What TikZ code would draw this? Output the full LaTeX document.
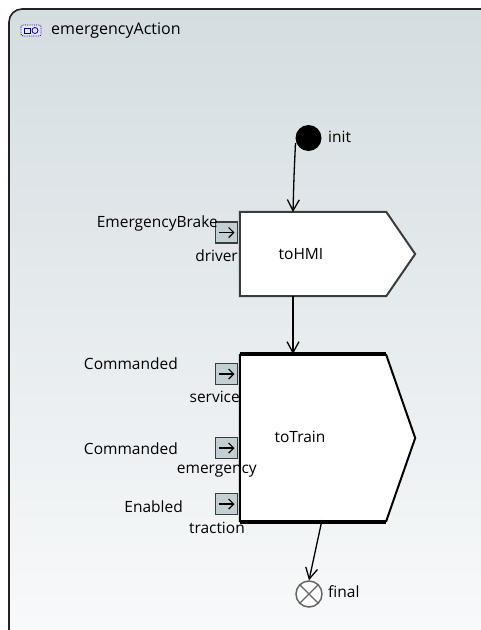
\documentclass[tikz,border=0pt]{standalone}
\usepackage{fontspec}
\setmainfont{Open Sans}
\usetikzlibrary{arrows.meta}
\definecolor{bgtop}{RGB}{213,221,224}
\definecolor{bgbot}{RGB}{249,250,251}
\definecolor{pinfill}{RGB}{196,207,211}
\definecolor{framec}{RGB}{34,34,34}
\definecolor{hmiedge}{RGB}{60,60,60}
\tikzset{
  txt/.style={font=\fontsize{15.5}{18}\selectfont, inner sep=0pt, text=black},
  pinbox/.style={draw=hmiedge, fill=pinfill, line width=1.2pt, minimum width=22pt, minimum height=21pt, inner sep=0pt},
  flow/.style={line width=1.3pt, -{Straight Barb[length=11pt,width=12pt,line width=1.3pt]}},
  blk/.style={minimum width=175pt, inner sep=0pt}
}
\newcommand{\pinarrow}[1]{\draw[line width=1.2pt, -{Straight Barb[length=5pt,width=10pt,line width=1.2pt]}] ([xshift=-8pt]#1.center) -- ([xshift=8pt]#1.center);}
\begin{document}
\begin{tikzpicture}[x=1pt,y=-1pt]
\useasboundingbox (0,0) rectangle (480,630);
% frame
\shade[top color=bgtop, bottom color=bgbot, rounded corners=13pt] (9,650) -- (9,9) -- (500,9) -- (500,650) -- cycle;
\draw[framec, line width=1.6pt, rounded corners=13pt] (9,650) -- (9,9) -- (500,9);
% title icon
\draw[fill=blue!10, draw=blue!60!black, densely dotted, line width=0.8pt, rounded corners=2pt] (21,25) rectangle (41,36);
\draw[draw=blue!50!black, line width=0.8pt] (24,28) rectangle (30,33);
\draw[draw=blue!50!black, line width=0.8pt] (35,30.5) circle[radius=3pt];
\node[txt, anchor=west, font=\fontsize{16}{18}\selectfont] (title) at (51,31) {emergencyAction};
% init
\node[circle, fill=black, minimum size=26pt, inner sep=0pt] (init) at (308.5,138) {};
\node[txt, anchor=west] (initlbl) at (328,137) {init};
% toHMI
\node[blk, minimum height=84pt] (hmi) at (327.5,254) {};
\draw[hmiedge, fill=white, line width=2pt, line join=miter]
  (hmi.north west) -- ([xshift=-29pt]hmi.north east) -- (hmi.east) -- ([xshift=-29pt]hmi.south east) -- (hmi.south west) -- cycle;
\node[txt] (hmitxt) at (301,254) {toHMI};
% toTrain
\node[blk, minimum height=166pt] (train) at (327.5,438) {};
\draw[black, fill=white, line width=2pt, line join=miter]
  (train.north west) -- ([xshift=-29pt]train.north east) -- (train.east) -- ([xshift=-29pt]train.south east) -- (train.south west) -- cycle;
\draw[black, line width=4.5pt] ([yshift=1pt]train.north west) -- ([xshift=-29pt,yshift=1pt]train.north east);
\draw[black, line width=4.5pt] ([yshift=-1pt]train.south west) -- ([xshift=-29pt,yshift=-1pt]train.south east);
\node[txt] (traintxt) at (300,437) {toTrain};
% pins
\node[pinbox] (p1) at (226.5,232.5) {};
\pinarrow{p1}
\node[pinbox] (p2) at (226.5,374) {};
\pinarrow{p2}
\node[pinbox] (p3) at (226.5,448) {};
\pinarrow{p3}
\node[pinbox] (p4) at (226.5,504) {};
\pinarrow{p4}
% pin labels
\node[txt, anchor=east] (l1a) at (218,223) {EmergencyBrake};
\node[txt, anchor=east] (l1b) at (238,256) {driver};
\node[txt, anchor=east] (l2a) at (178,364) {Commanded};
\node[txt, anchor=east] (l2b) at (240,397) {service};
\node[txt, anchor=east] (l3a) at (178,449) {Commanded};
\node[txt, anchor=east] (l3b) at (257,471) {emergency};
\node[txt, anchor=east] (l4a) at (183,507) {Enabled};
\node[txt, anchor=east] (l4b) at (245,528) {traction};
% final
\node[circle, draw=gray!80!black, fill=white, line width=1.5pt, minimum size=26pt, inner sep=0pt] (final) at (309,594) {};
\draw[gray!80!black, line width=1.3pt] (final.45) -- (final.225) (final.135) -- (final.315);
\node[txt, anchor=west] (finallbl) at (328,592) {final};
% flows
\coordinate (s1) at (295.5,143);
\coordinate (e1) at (293,212);
\draw[flow] (s1) .. controls (294,175) .. (e1);
\coordinate (s2) at (293,296);
\coordinate (e2) at (293,354);
\draw[flow] (s2) -- (e2);
\coordinate (s3) at (322,520);
\draw[flow] (s3) -- (final.north);
\end{tikzpicture}
\end{document}
